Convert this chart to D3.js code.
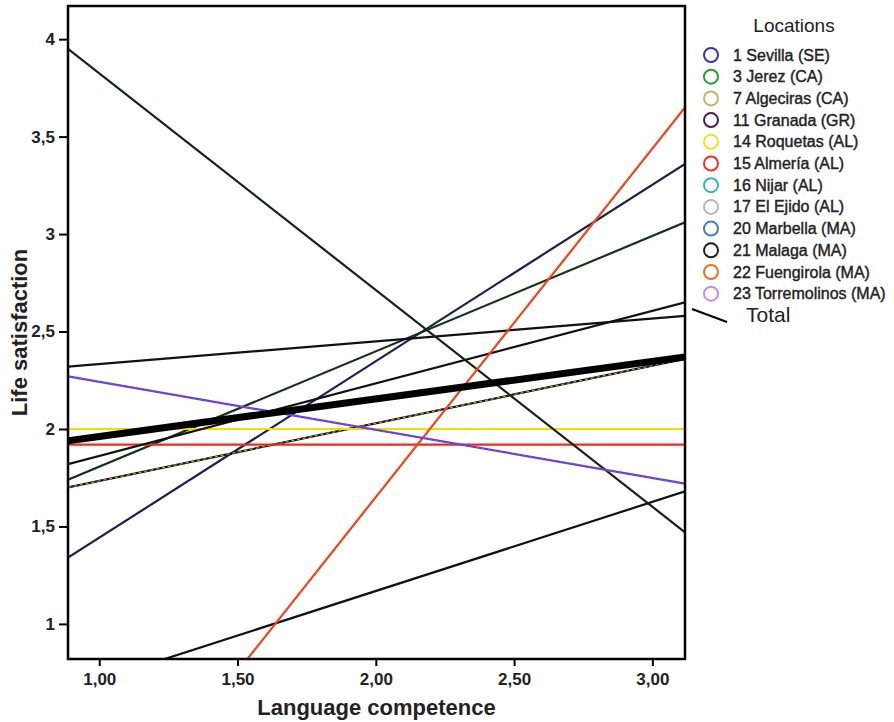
<!DOCTYPE html>
<html>
<head>
<meta charset="utf-8">
<script src="https://cdn.jsdelivr.net/npm/d3@7"></script>
<style>
  body { margin: 0; background: #fff; }
  svg { display: block; font-family: "Liberation Sans", Arial, sans-serif; }
</style>
</head>
<body>
<svg id="chart" width="894" height="722"></svg>
<script>
// ---- data ----
const locations = [
  "1 Sevilla (SE)", "3 Jerez (CA)", "7 Algeciras (CA)", "11 Granada (GR)",
  "14 Roquetas (AL)", "15 Almería (AL)", "16 Nijar (AL)", "17 El Ejido (AL)",
  "20 Marbella (MA)", "21 Malaga (MA)", "22 Fuengirola (MA)", "23 Torremolinos (MA)"
];
// fitted life satisfaction at the low and high end of language competence
const competenceRange = [0.887, 3.118];
const satisfactionLow  = [1.34, 1.74, 1.70, 2.32, 2.00, 1.92, 0.66, null, 1.82, 3.95, -0.34, 2.27];
const satisfactionHigh = [3.36, 3.06, 2.36, 2.58, 2.00, 1.92, 1.68, null, 2.65, 1.47, 3.65, 1.72];
const totalLow = 1.94, totalHigh = 2.37;
const xTicks = [1.0, 1.5, 2.0, 2.5, 3.0];
const yTicks = [1, 1.5, 2, 2.5, 3, 3.5, 4];
const yDomain = [0.82, 4.17];

// ---- styles ----
const legendColors = ["#3b36a8", "#2a9c36", "#c4b466", "#4a1858", "#eee61e", "#ee3030",
                      "#2eb8b8", "#b8b8b8", "#4a78cc", "#142414", "#f07020", "#c690e0"];
const lineColors   = ["#1e1e50", "#143418", "#111", "#111", "#eee000", "#f02a1e",
                      "#111", "#999", "#111", "#132413", "#f0441a", "#5a44d8"];
const lineOverlay  = [null, null, "#e0b040", null, null, null, null, null, null, null, null, "#b040c0"];

const fmt = d3.format(".2f");
const comma = s => s.replace(".", ",");

const svg = d3.select("#chart");
const m = {left: 68, right: 685, top: 6, bottom: 659};

const x = d3.scaleLinear().domain(competenceRange).range([m.left, m.right]);
const y = d3.scaleLinear().domain(yDomain).range([m.bottom, m.top]);

svg.append("defs").append("clipPath").attr("id", "clip")
  .append("rect").attr("x", m.left).attr("y", m.top)
  .attr("width", m.right - m.left).attr("height", m.bottom - m.top);

const line = d3.line().x(d => x(d[0])).y(d => y(d[1]));
const plot = svg.append("g").attr("clip-path", "url(#clip)");

locations.forEach((loc, i) => {
  if (satisfactionLow[i] == null) return;
  const pts = [[competenceRange[0], satisfactionLow[i]], [competenceRange[1], satisfactionHigh[i]]];
  plot.append("path").attr("d", line(pts)).attr("fill", "none")
    .attr("stroke", lineColors[i]).attr("stroke-width", 2.2);
  if (lineOverlay[i]) {
    plot.append("path").attr("d", line(pts)).attr("fill", "none")
      .attr("stroke", lineOverlay[i]).attr("stroke-width", 1)
      .attr("stroke-dasharray", "3,3");
  }
});
// Total
plot.append("path")
  .attr("d", line([[competenceRange[0], totalLow], [competenceRange[1], totalHigh]]))
  .attr("fill", "none").attr("stroke", "#000").attr("stroke-width", 7);

// frame
svg.append("rect").attr("x", m.left).attr("y", m.top)
  .attr("width", m.right - m.left).attr("height", m.bottom - m.top)
  .attr("fill", "none").attr("stroke", "#000").attr("stroke-width", 2.5);

// axes
const xAxis = d3.axisBottom(x).tickValues(xTicks).tickSize(7).tickPadding(7)
  .tickFormat(d => comma(fmt(d)));
const gx = svg.append("g").attr("transform", `translate(0,${m.bottom})`).call(xAxis);
const yAxis = d3.axisLeft(y).tickValues(yTicks).tickSize(9).tickPadding(4)
  .tickFormat(d => comma(String(d)));
const gy = svg.append("g").attr("transform", `translate(${m.left},0)`).call(yAxis);
[gx, gy].forEach(g => {
  g.select(".domain").remove();
  g.selectAll(".tick line").attr("stroke", "#000").attr("stroke-width", 2);
  g.selectAll(".tick text").attr("fill", "#222").style("font-size", "17px")
    .style("font-weight", "bold")
    .style("font-family", "'Liberation Sans', Arial, sans-serif");
});

// axis titles
svg.append("text").attr("x", (m.left + m.right) / 2).attr("y", 715)
  .attr("text-anchor", "middle").style("font-size", "22px").style("font-weight", "bold")
  .attr("fill", "#222").text("Language competence");
svg.append("text").attr("transform", `translate(27,${(m.top + m.bottom) / 2}) rotate(-90)`)
  .attr("text-anchor", "middle").style("font-size", "22px").style("font-weight", "bold")
  .attr("fill", "#222").text("Life satisfaction");

// legend
const lg = svg.append("g");
lg.append("text").attr("x", 794).attr("y", 32).attr("text-anchor", "middle")
  .style("font-size", "19px").attr("fill", "#222").text("Locations");
locations.forEach((loc, i) => {
  const cy = 55 + i * 21.7;
  lg.append("circle").attr("cx", 711).attr("cy", cy).attr("r", 7)
    .attr("fill", "none").attr("stroke", legendColors[i]).attr("stroke-width", 2);
  lg.append("text").attr("x", 733).attr("y", cy + 5.5)
    .style("font-size", "16px").attr("fill", "#222")
    .attr("stroke", "#222").attr("stroke-width", 0.4).text(loc);
});
lg.append("line").attr("x1", 692).attr("y1", 309).attr("x2", 727).attr("y2", 322)
  .attr("stroke", "#000").attr("stroke-width", 2);
lg.append("text").attr("x", 746).attr("y", 322)
  .style("font-size", "21px").attr("fill", "#222").text("Total");
</script>
</body>
</html>
